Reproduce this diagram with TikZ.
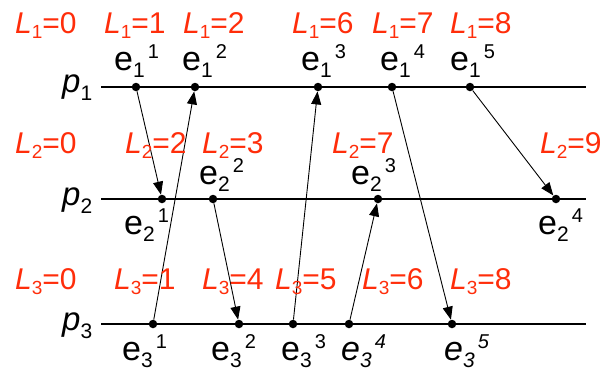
\documentclass[tikz,border=0pt]{standalone}
\usepackage{fontspec}
\setmainfont{Liberation Sans}
\usetikzlibrary{arrows.meta}
\definecolor{lred}{RGB}{255,45,10}
\newcommand\Llab[2]{{\itshape L}\raisebox{-5pt}{\fontsize{19}{19}\selectfont #1}=#2}
\newcommand\Elab[3]{#1\raisebox{-7pt}{\fontsize{21}{21}\selectfont #2}\hspace{3pt}\raisebox{12pt}{\fontsize{20}{20}\selectfont #3}}
\newcommand\Plab[1]{{\itshape p}\raisebox{-8pt}{\fontsize{21}{21}\selectfont #1}}
\begin{document}
\begin{tikzpicture}[x=1pt,y=-1pt,
  lclock/.style={text=lred,font=\fontsize{30}{30}\selectfont,inner sep=0pt,anchor=base west},
  evlab/.style={font=\fontsize{34}{34}\selectfont,inner sep=0pt,anchor=base west},
  plab/.style={font=\fontsize{33}{33}\selectfont,inner sep=0pt,anchor=base west},
  proc/.style={line width=2.4pt},
  ev/.style={circle,fill=black,inner sep=0pt,minimum size=8.5pt},
  msg/.style={line width=0.9pt,-{Triangle[length=13pt,width=10pt]}}]
\useasboundingbox (0,0) rectangle (605,370);
% process lines
\coordinate (l1) at (101,87); \coordinate (r1) at (586,87);
\coordinate (l2) at (101,199); \coordinate (r2) at (586,199);
\coordinate (l3) at (101,324); \coordinate (r3) at (586,324);
\draw[proc] (l1) -- (r1);
\draw[proc] (l2) -- (r2);
\draw[proc] (l3) -- (r3);
\node[plab] (p1) at (62,92) {\Plab{1}};
\node[plab] (p2) at (62,205) {\Plab{2}};
\node[plab] (p3) at (62,330) {\Plab{3}};
% events
\node[ev] (e11) at (136,87) {};
\node[ev] (e12) at (195,87) {};
\node[ev] (e13) at (318,87) {};
\node[ev] (e14) at (392,87) {};
\node[ev] (e15) at (470,87) {};
\node[ev] (e21) at (162,199) {};
\node[ev] (e22) at (213,199) {};
\node[ev] (e23) at (378,199) {};
\node[ev] (e24) at (556,199) {};
\node[ev] (e31) at (153,324) {};
\node[ev] (e32) at (239,324) {};
\node[ev] (e33) at (293,324) {};
\node[ev] (e34) at (349,324) {};
\node[ev] (e35) at (452,324) {};
% messages
\draw[msg] (e11) -- (e21);
\draw[msg] (e31) -- (e12);
\draw[msg] (e22) -- (e32);
\draw[msg] (e33) -- (e13);
\draw[msg] (e14) -- (e35);
\draw[msg] (e34) -- (e23);
\draw[msg] (e15) -- (e24);
% event labels
\node[evlab] (t11) at (114,70) {\Elab{e}{1}{1}};
\node[evlab] (t12) at (182,70) {\Elab{e}{1}{2}};
\node[evlab] (t13) at (301,70) {\Elab{e}{1}{3}};
\node[evlab] (t14) at (380,70) {\Elab{e}{1}{4}};
\node[evlab] (t15) at (450,70) {\Elab{e}{1}{5}};
\node[evlab] (t21) at (124,234) {\Elab{e}{2}{1}};
\node[evlab] (t22) at (199,184) {\Elab{e}{2}{2}};
\node[evlab] (t23) at (351,184) {\Elab{e}{2}{3}};
\node[evlab] (t24) at (538,234) {\Elab{e}{2}{4}};
\node[evlab] (t31) at (122,360) {\Elab{e}{3}{1}};
\node[evlab] (t32) at (211,360) {\Elab{e}{3}{2}};
\node[evlab] (t33) at (281,360) {\Elab{e}{3}{3}};
\node[evlab] (t34) at (341,360) {\Elab{\itshape e}{3}{4}};
\node[evlab] (t35) at (444,360) {\Elab{\itshape e}{3}{5}};
% clock labels
\node[lclock] (a10) at (15,33) {\Llab{1}{0}};
\node[lclock] (a11) at (104,33) {\Llab{1}{1}};
\node[lclock] (a12) at (183,33) {\Llab{1}{2}};
\node[lclock] (a16) at (292,33) {\Llab{1}{6}};
\node[lclock] (a17) at (372,33) {\Llab{1}{7}};
\node[lclock] (a18) at (450,33) {\Llab{1}{8}};
\node[lclock] (b20) at (15,153) {\Llab{2}{0}};
\node[lclock] (b22) at (125,153) {\Llab{2}{2}};
\node[lclock] (b23) at (202,153) {\Llab{2}{3}};
\node[lclock] (b27) at (332,153) {\Llab{2}{7}};
\node[lclock] (b29) at (540,153) {\Llab{2}{9}};
\node[lclock] (c30) at (15,289) {\Llab{3}{0}};
\node[lclock] (c31) at (114,289) {\Llab{3}{1}};
\node[lclock] (c34) at (202,289) {\Llab{3}{4}};
\node[lclock] (c35) at (275,289) {\Llab{3}{5}};
\node[lclock] (c36) at (362,289) {\Llab{3}{6}};
\node[lclock] (c38) at (450,289) {\Llab{3}{8}};
\end{tikzpicture}
\end{document}
